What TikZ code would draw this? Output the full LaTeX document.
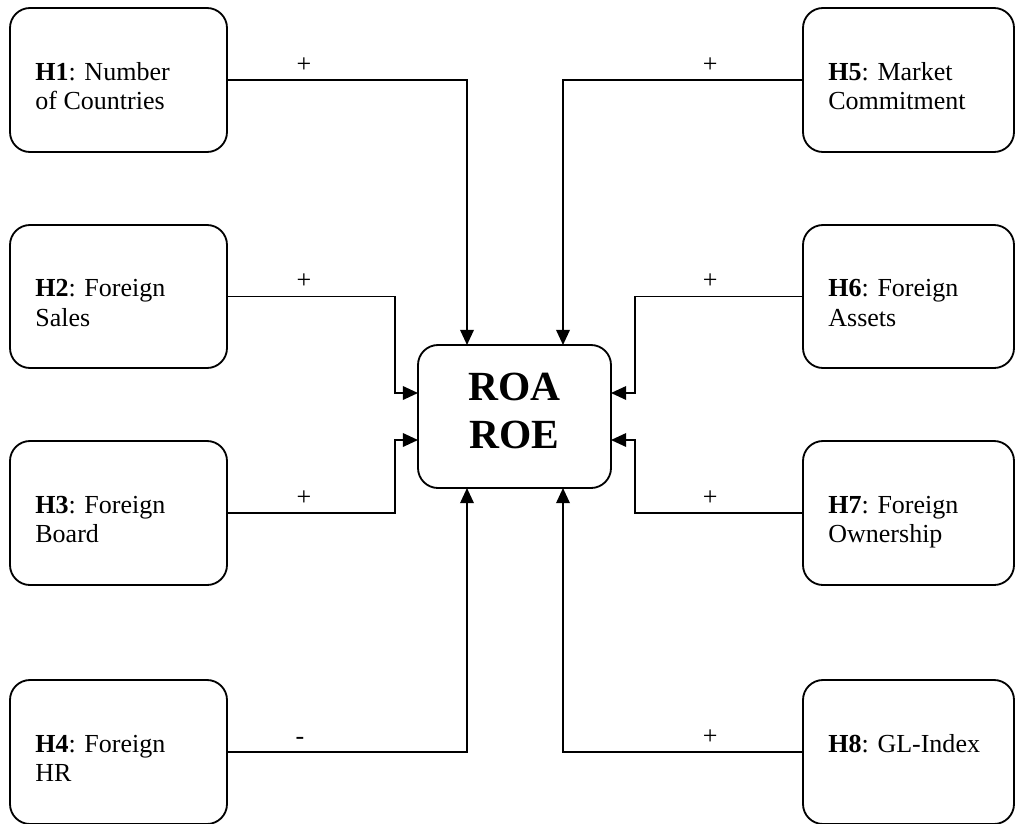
\documentclass[tikz,border=0pt]{standalone}
\usepackage{fontspec}
\setmainfont{Liberation Serif}
\usetikzlibrary{arrows.meta, positioning, calc}

\begin{document}
\begin{tikzpicture}[
    hbox/.style={draw, line width=1.3pt, rounded corners=0.5cm, minimum width=#1, minimum height=3.6cm, inner sep=0pt},
    txt/.style={anchor=base west, inner sep=0pt, font=\fontsize{18.5pt}{21.3pt}\selectfont},
    sign/.style={anchor=base, inner sep=0pt, font=\fontsize{18.5pt}{21pt}\selectfont},
    conn/.style={line width=1.3pt, -{Triangle[length=0.38cm, width=0.34cm]}}
  ]
    \newcommand{\hyptext}[2]{\begin{tabular}[t]{@{}l@{}}#1\\#2\end{tabular}}
    \useasboundingbox (0,0) rectangle (25.4,-20.575);

    % outcome box
    \node[hbox=4.825cm, minimum height=3.575cm] (roa) at (12.8625,-10.4125) {};
    \node[align=center, inner sep=0pt, font=\bfseries\fontsize{29.5pt}{34pt}\selectfont]
      (rt) at ($(roa.center)+(0,0.14)$) {ROA\\ROE};

    % ports on the outcome box
    \coordinate (pT1) at (11.675,-8.625);
    \coordinate (pT2) at (14.075,-8.625);
    \coordinate (pB1) at (11.675,-12.2);
    \coordinate (pB2) at (14.075,-12.2);
    \coordinate (pL1) at (10.45,-9.825);
    \coordinate (pL2) at (10.45,-11.0);
    \coordinate (pR1) at (15.275,-9.825);
    \coordinate (pR2) at (15.275,-11.0);
    \coordinate (bL1) at (9.875,-9.825);
    \coordinate (bL2) at (9.875,-11.0);
    \coordinate (bR1) at (15.875,-9.825);
    \coordinate (bR2) at (15.875,-11.0);

    % left column
    \node[hbox=5.425cm] (h1) at (2.9625,-2.0) {};
    \node[txt] (t1) at ($(h1.west)+(0.65,0)$) {\hyptext{\textbf{H1}: Number}{of Countries}};
    \node[hbox=5.425cm, minimum height=3.575cm] (h2) at (2.9625,-7.4125) {};
    \node[txt] (t2) at ($(h2.west)+(0.65,0)$) {\hyptext{\textbf{H2}: Foreign}{Sales}};
    \node[hbox=5.425cm] (h3) at (2.9625,-12.825) {};
    \node[txt] (t3) at ($(h3.west)+(0.65,0)$) {\hyptext{\textbf{H3}: Foreign}{Board}};
    \node[hbox=5.425cm] (h4) at (2.9625,-18.8) {};
    \node[txt] (t4) at ($(h4.west)+(0.65,0)$) {\hyptext{\textbf{H4}: Foreign}{HR}};

    % right column
    \node[hbox=5.275cm] (h5) at (22.7125,-2.0) {};
    \node[txt] (t5) at ($(h5.west)+(0.65,0)$) {\hyptext{\textbf{H5}: Market}{Commitment}};
    \node[hbox=5.275cm, minimum height=3.575cm] (h6) at (22.7125,-7.4125) {};
    \node[txt] (t6) at ($(h6.west)+(0.65,0)$) {\hyptext{\textbf{H6}: Foreign}{Assets}};
    \node[hbox=5.275cm] (h7) at (22.7125,-12.825) {};
    \node[txt] (t7) at ($(h7.west)+(0.65,0)$) {\hyptext{\textbf{H7}: Foreign}{Ownership}};
    \node[hbox=5.275cm] (h8) at (22.7125,-18.8) {};
    \node[txt] (t8) at ($(h8.west)+(0.65,0)$) {\textbf{H8}: GL-Index};

    % connectors
    \draw[conn] (h1.east) -| (pT1);
    \draw[conn] (h2.east) -| (bL1) -- (pL1);
    \draw[conn] (h3.east) -| (bL2) -- (pL2);
    \draw[conn] (h4.east) -| (pB1);
    \draw[conn] (h5.west) -| (pT2);
    \draw[conn] (h6.west) -| (bR1) -- (pR1);
    \draw[conn] (h7.west) -| (bR2) -- (pR2);
    \draw[conn] (h8.west) -| (pB2);

    % signs
    \node[sign] (s1) at ($(h1.east)+(1.9,0.2)$) {+};
    \node[sign] (s2) at ($(h2.east)+(1.9,0.2)$) {+};
    \node[sign] (s3) at ($(h3.east)+(1.9,0.2)$) {+};
    \node[sign] (s4) at ($(h4.east)+(1.8,0.2)$) {-};
    \node[sign] (s5) at ($(h5.west)+(-2.3,0.2)$) {+};
    \node[sign] (s6) at ($(h6.west)+(-2.3,0.2)$) {+};
    \node[sign] (s7) at ($(h7.west)+(-2.3,0.2)$) {+};
    \node[sign] (s8) at ($(h8.west)+(-2.3,0.2)$) {+};
\end{tikzpicture}
\end{document}
